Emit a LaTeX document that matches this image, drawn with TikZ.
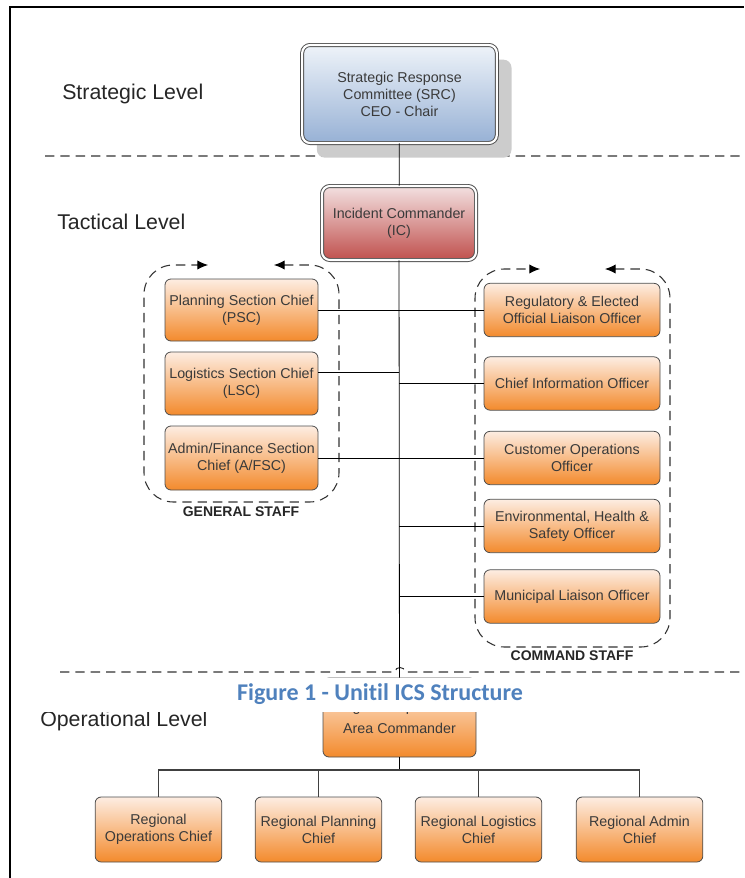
\documentclass[tikz,border=0pt]{standalone}
\usepackage{fontspec}
\setmainfont{Liberation Sans}
\newfontfamily\captionfont[Ligatures=NoCommon]{Carlito}
\usetikzlibrary{arrows.meta, shadows}

\definecolor{boxtext}{HTML}{3A3A3A}
\definecolor{boxline}{HTML}{4D4D4D}
\definecolor{srctop}{HTML}{EEF3F9}
\definecolor{srcbot}{HTML}{97B1D5}
\definecolor{ictop}{HTML}{F3E1E1}
\definecolor{icbot}{HTML}{C0504D}
\definecolor{orgtop}{HTML}{FDEDE2}
\definecolor{orgbot}{HTML}{F38A2C}
\definecolor{captionblue}{HTML}{4F81BD}

\tikzset{
  unitbox/.style={draw=boxline, line width=0.6pt, rounded corners=4.5pt, align=center,
    text=boxtext, font=\fontsize{10.7}{12.8}\selectfont, inner sep=1pt,
    top color=orgtop, bottom color=orgbot},
  leadbox/.style={unitbox, double=white, double distance=1.6pt, line width=0.7pt, rounded corners=6pt},
  levellabel/.style={font=\fontsize{16}{18}\selectfont, text=black!85, anchor=west, inner sep=0pt},
  stafflabel/.style={font=\bfseries\fontsize{10.5}{12}\selectfont, text=black!85},
  levelline/.style={dash pattern=on 7pt off 4.5pt, line width=0.8pt, draw=black!80},
  groupline/.style={levelline, rounded corners=22pt,
    {Latex[length=8pt,width=7pt,black]}-{Latex[length=8pt,width=7pt,black]}},
  link/.style={draw=black, line width=0.6pt}
}

\begin{document}
\begin{tikzpicture}[x=0.75pt, y=-0.75pt]
    \useasboundingbox (0,0) rectangle (744,878);

    % Levels
    \node[levellabel] (strategic) at (62,94) {Strategic Level};
    \node[levellabel] (tactical) at (57,222) {Tactical Level};
    \node[levellabel] (operational) at (40,721) {Operational Level};
    \draw[levelline] (45,156) -- (395,156) .. controls (395,150) and (405,150) .. (405,156) -- (744,156);
    \draw[levelline] (60,672) -- (395,672) .. controls (395,666) and (405,666) .. (405,672) -- (744,672);

    % Strategic and tactical lead
    \node[leadbox, top color=srctop, bottom color=srcbot, minimum width=146pt, minimum height=73.5pt,
      drop shadow={shadow xshift=11pt, shadow yshift=-11pt, opacity=1, fill=black!20}]
      (src) at (399.5,94) {Strategic Response\\Committee (SRC)\\CEO - Chair};
    \node[leadbox, top color=ictop, bottom color=icbot, minimum width=115.5pt, minimum height=55.5pt]
      (ic) at (399,223) {Incident Commander\\(IC)};

    % General staff
    \node[unitbox, minimum width=114.75pt, minimum height=46.5pt] (psc) at (241.5,310) {Planning Section Chief\\(PSC)};
    \node[unitbox, minimum width=114.75pt, minimum height=47.25pt] (lsc) at (241.5,383.5) {Logistics Section Chief\\(LSC)};
    \node[unitbox, minimum width=114.75pt, minimum height=48pt] (afsc) at (241.5,458) {Admin/Finance Section\\Chief (A/FSC)};

    % Command staff
    \node[unitbox, minimum width=132pt, minimum height=40pt] (reg) at (572,310) {Regulatory \& Elected\\Official Liaison Officer};
    \node[unitbox, minimum width=132pt, minimum height=40pt] (cio) at (572,383.5) {Chief Information Officer};
    \node[unitbox, minimum width=132pt, minimum height=40pt] (custops) at (572,458) {Customer Operations\\Officer};
    \node[unitbox, minimum width=132pt, minimum height=40pt] (ehs) at (572,526) {Environmental, Health \&\\Safety Officer};
    \node[unitbox, minimum width=132pt, minimum height=40pt] (mlo) at (572,596.5) {Municipal Liaison Officer};

    % Staff frames
    \draw[groupline] (274,265) -- (339,265) -- (339,502) -- (144,502) -- (144,265) -- (208,265);
    \node[stafflabel] (general) at (241,512) {GENERAL STAFF};
    \draw[groupline] (605,269) -- (670,269) -- (670,647) -- (475,647) -- (475,269) -- (540,269);
    \node[stafflabel] (command) at (572,656) {COMMAND STAFF};

    % Operational level
    \node[unitbox, minimum width=114.75pt, minimum height=59.25pt] (area) at (399.5,717.5) {Regional Operations\\[3.7pt]Area Commander};
    \node[unitbox, minimum width=95pt, minimum height=48.75pt] (rops) at (158.5,829.5) {Regional\\Operations Chief};
    \node[unitbox, minimum width=95pt, minimum height=48.75pt] (rplan) at (318.5,829.5) {Regional Planning\\Chief};
    \node[unitbox, minimum width=95pt, minimum height=48.75pt] (rlog) at (478.5,829.5) {Regional Logistics\\Chief};
    \node[unitbox, minimum width=95pt, minimum height=48.75pt] (radmin) at (639.5,829.5) {Regional Admin\\Chief};

    % Links
    \draw[link] (src) -- (ic);
    \draw[link] (ic) -- (area);
    \draw[link] (psc) -- (reg);
    \draw[link] ([yshift=8.6pt]lsc.east) -- ([yshift=8.6pt]lsc.east -| ic.south);
    \draw[link] (afsc) -- (custops);
    \draw[link] (cio.west -| ic.south) -- (cio.west);
    \draw[link] (ehs.west -| ic.south) -- (ehs.west);
    \draw[link] (mlo.west -| ic.south) -- (mlo.west);
    \coordinate (bus) at (399.5,770);
    \draw[link] (area) -- (bus);
    \draw[link, draw=black!75, line width=0.9pt] (bus) -| (rops);
    \draw[link, draw=black!75, line width=0.9pt] (bus) -| (rplan);
    \draw[link, draw=black!75, line width=0.9pt] (bus) -| (rlog);
    \draw[link, draw=black!75, line width=0.9pt] (bus) -| (radmin);

    % Caption band
    \fill[white] (12,678) rectangle (744,712);
    \node[font=\captionfont\bfseries\fontsize{18}{20}\selectfont, text=captionblue] (caption) at (380,694) {Figure 1 - Unitil ICS Structure};

    % Frame
    \draw[line width=1.3pt] (10,878) -- (10,7) -- (744,7);
\end{tikzpicture}
\end{document}
